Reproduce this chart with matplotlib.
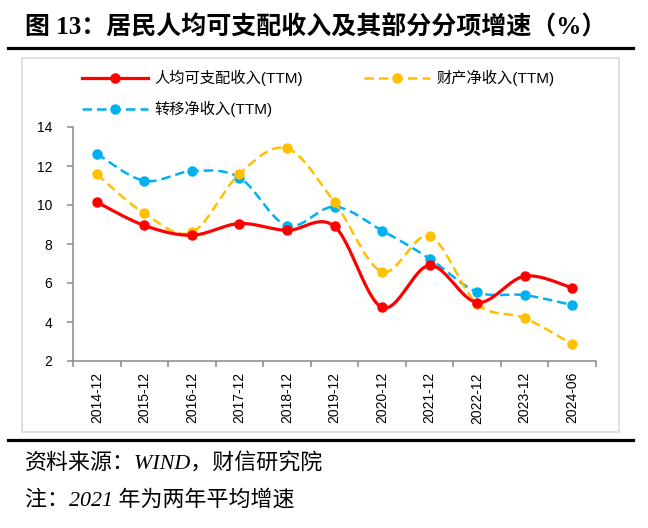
""" Growth of per-capita disposable income and two of its components """

import numpy as np
import matplotlib.pyplot as plt
from matplotlib.lines import Line2D
from matplotlib.patches import Rectangle
from matplotlib.ticker import FixedLocator

plt.rcParams['font.family'] = ['Liberation Sans', 'Noto Sans CJK SC']

##############################################################################
##                                   Data                                   ##
##############################################################################

periods = ["2014-12", "2015-12", "2016-12", "2017-12", "2018-12", "2019-12",
           "2020-12", "2021-12", "2022-12", "2023-12", "2024-06"]
disposable = [10.15, 8.95, 8.45, 9.05, 8.70, 8.90, 4.75, 6.90, 5.00, 6.35, 5.75]
property_inc = [11.58, 9.57, 8.60, 11.60, 12.90, 10.14, 6.58, 8.40, 4.93, 4.20, 2.86]
transfer_inc = [12.64, 11.24, 11.74, 11.41, 8.94, 9.91, 8.69, 7.25, 5.54, 5.38, 4.87]

labels = ["人均可支配收入(TTM)", "财产净收入(TTM)", "转移净收入(TTM)"]
colors = ["#FF0000", "#FFC000", "#00B0F0"]

##############################################################################


def smooth(yvals, n=30):
    """ Catmull-Rom curve through the points (Excel-like smoothed line) """
    y = np.asarray(yvals, float)
    x = np.arange(len(y), dtype=float)
    px = np.concatenate(([x[0]], x, [x[-1]]))
    py = np.concatenate(([y[0]], y, [y[-1]]))
    t = np.linspace(0, 1, n)[:, None]
    xs, ys = [], []
    for i in range(1, len(px) - 2):
        p0, p1, p2, p3 = [np.array([px[j], py[j]]) for j in range(i-1, i+3)]
        c1 = p1 + (p2 - p0) / 6
        c2 = p2 - (p3 - p1) / 6
        pts = ((1-t)**3 * p1 + 3*(1-t)**2*t * c1
               + 3*(1-t)*t**2 * c2 + t**3 * p2)
        xs.append(pts[:, 0])
        ys.append(pts[:, 1])
    return np.concatenate(xs), np.concatenate(ys)


fig = plt.figure(figsize=(6.48, 5.28), dpi=100)
ax = fig.add_axes([73/648, 1-361/528, (596-73)/648, (361-127)/528])

xpos = np.arange(len(periods))
series = [disposable, property_inc, transfer_inc]
styles = [dict(lw=2.3, ls='-'), dict(lw=1.8, ls=(0, (3.8, 2))),
          dict(lw=1.8, ls=(0, (3.8, 2)))]
handles = []
# Draw back to front: transfer, property, then disposable on top
for vals, col, sty in zip(series[::-1], colors[::-1], styles[::-1]):
    sx, sy = smooth(vals)
    ax.plot(sx, sy, color=col, **sty)
    ax.plot(xpos, vals, 'o', color=col, ms=6.5, mec=col)
for col, sty, lab in zip(colors, styles, labels):
    handles.append(Line2D([], [], color=col, marker='o', ms=6.5, label=lab,
                          **sty))

# Axes
ax.set_xlim(-0.5, len(periods) - 0.5)
ax.set_ylim(2, 14)
ax.set_yticks(np.arange(2, 15, 2))
ax.xaxis.set_major_locator(FixedLocator(np.arange(-0.5, len(periods), 1)))
ax.xaxis.set_minor_locator(FixedLocator(xpos))
ax.set_xticklabels([])
ax.set_xticklabels(periods, minor=True, rotation=90, fontsize=10)
ax.tick_params(axis='x', which='major', length=4, width=1.1, color='#898989',
               direction='out')
ax.tick_params(axis='x', which='minor', length=0, pad=8)
ax.tick_params(axis='y', length=4, width=1.1, color='#898989', labelsize=10,
               pad=11)
for side in ['top', 'right']:
    ax.spines[side].set_visible(False)
for side in ['left', 'bottom']:
    ax.spines[side].set_color('#898989')
    ax.spines[side].set_linewidth(1.1)

# Legend (column-wise: red & blue in column 1, yellow in column 2)
fig.legend([handles[0], handles[2], handles[1]],
           [labels[0], labels[2], labels[1]],
           ncol=2, frameon=False, fontsize=11, loc='upper left',
           bbox_to_anchor=(82/648, 1-70/528), borderpad=0, borderaxespad=0,
           handlelength=4.3, handletextpad=0.45, columnspacing=4,
           labelspacing=0.95, numpoints=1)

# Frame around the chart & horizontal rules
fig.patches.append(Rectangle((22/648, 1-432/528), 597/648, 374/528,
                             transform=fig.transFigure, fill=False,
                             edgecolor='#D9D9D9', lw=1.2))
for ypix in [48, 440]:
    fig.add_artist(Line2D([8/648, 633/648], [1-ypix/528]*2, color='black',
                          lw=2.3, transform=fig.transFigure))

# Title & notes
fig.text(25/648, 1-27/528, "图 13：居民人均可支配收入及其部分分项增速（%）",
         fontsize=18, fontweight='bold', va='center', ha='left',
         family=['Liberation Serif', 'Noto Sans CJK SC'])
fig.text(25/648, 1-463/528, "资料来源：WIND，财信研究院", fontsize=15.8,
         style='italic', va='center', ha='left',
         family=['Liberation Serif', 'Noto Sans CJK SC'])
fig.text(25/648, 1-500/528, "注：2021 年为两年平均增速", fontsize=15.8,
         style='italic', va='center', ha='left',
         family=['Liberation Serif', 'Noto Sans CJK SC'])

plt.savefig("out.png", dpi=100)
